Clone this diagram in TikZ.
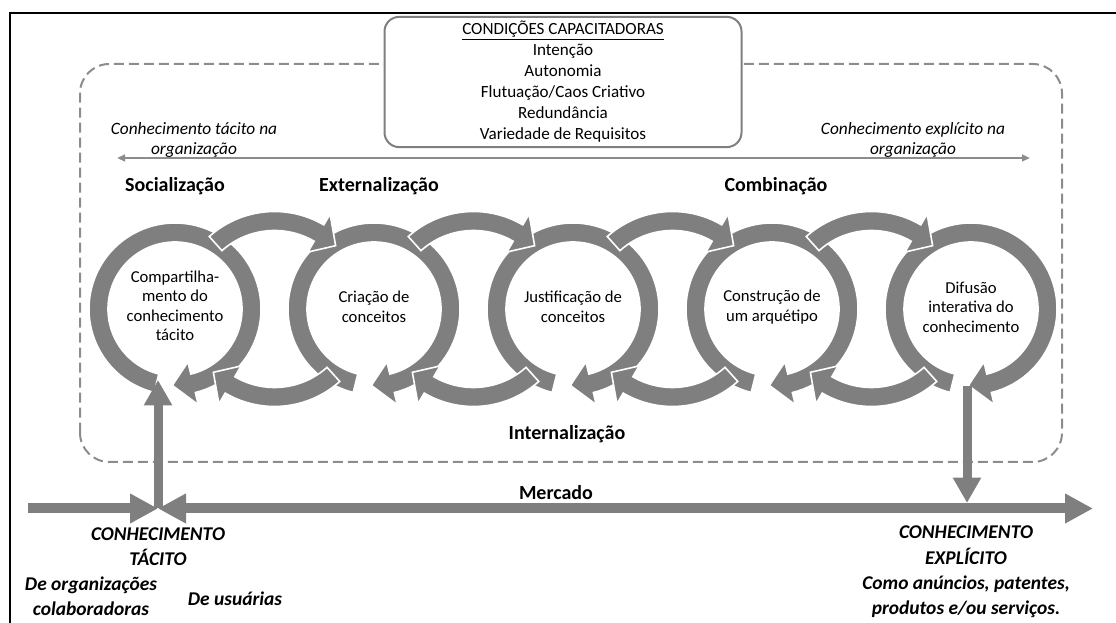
\documentclass[tikz,border=0pt]{standalone}
\usepackage{fontspec}
\setmainfont{Carlito}
\usepackage{tikz}
\usetikzlibrary{calc,arrows.meta,positioning}

\definecolor{shapegray}{HTML}{7F7F7F}
\definecolor{dashgray}{HTML}{8C8C8C}

% thick circular arrow: centre, mid radius, tail angle, tip angle (clockwise)
\newcommand{\ringarrow}[4]{%
  \pgfmathsetmacro{\ringout}{#2+9.5}%
  \pgfmathsetmacro{\ringin}{#2-9.5}%
  \pgfmathsetmacro{\barbout}{#2+22}%
  \pgfmathsetmacro{\barbin}{#2-22}%
  \pgfmathsetmacro{\headbase}{#4+1200/#2}%
  \path[ringfill,shift={(#1)}] (#3:\ringout)
    arc[start angle=#3,end angle=\headbase,radius=\ringout]
    -- (\headbase:\barbout) -- (#4:#2) -- (\headbase:\barbin) -- (\headbase:\ringin)
    arc[start angle=\headbase,end angle=#3,radius=\ringin] -- cycle;}

\tikzset{
  ringfill/.style={fill=shapegray,draw=white,line width=1.2pt,line join=miter},
  condbox/.style={draw=shapegray,line width=1.5pt,rounded corners=11pt,fill=white,
    align=center,minimum width=267.75pt,minimum height=96pt,
    font=\fontsize{12.8}{15.75}\selectfont},
  stage/.style={font=\fontsize{15}{18}\selectfont\bfseries},
  circtext/.style={align=center,font=\fontsize{12.5}{14.6}\selectfont},
  sidetext/.style={align=center,font=\fontsize{13}{15}\selectfont\itshape},
  bottomtext/.style={align=center,font=\fontsize{14.6}{19}\selectfont\bfseries\itshape},
  bigarrow/.style={draw=shapegray,line width=6.75pt,-{Triangle[length=19pt,width=20pt]}},
  mktarrow/.style={draw=shapegray,line width=7.5pt},
  thinarrow/.style={draw=dashgray,line width=1.5pt,
    {Triangle[length=6pt,width=5pt]}-{Triangle[length=6pt,width=5pt]}}
}

\begin{document}
\begin{tikzpicture}[x=0.75pt,y=0.75pt]
\useasboundingbox (0,0) rectangle (1116,623);

\draw[line width=1.5pt] (10,0) |- (1116,610);

% organisation
\draw[dashgray,line width=1.5pt,dash pattern=on 7.5pt off 3.75pt,rounded corners=22pt]
  (80,161) rectangle (1062,559);

\node[condbox] (cond) at (563,541) {\underline{CONDIÇÕES CAPACITADORAS}\\Intenção\\Autonomia\\
  Flutuação/Caos Criativo\\Redundância\\Variedade de Requisitos};

\node[sidetext] (tacorg) at (194,483) {Conhecimento tácito na\\organização};
\node[sidetext] (exporg) at (913,483) {Conhecimento explícito na\\organização};
\coordinate (orgL) at (117,465);
\coordinate (orgR) at (1030,465);
\draw[thinarrow] (orgL) -- (orgR);

\node[stage] (soc) at (175,437) {Socialização};
\node[stage] (ext) at (379,437) {Externalização};
\node[stage] (comb) at (776,437) {Combinação};
\node[stage] (intl) at (567,189) {Internalização};

% spiral of circles
\foreach \n/\x in {1/175,2/374,3/573,4/772,5/971}
  \coordinate (c\n) at (\x,314);
\foreach \n/\x in {1/274.5,2/473.5,3/672.5,4/871.5}
  \coordinate (m\n) at (\x,314);

\foreach \n in {1,...,5}
  \ringarrow{c\n}{76.5}{256}{-92};
\foreach \n in {1,...,4}{
  \ringarrow{m\n}{88}{132}{46}
  \ringarrow{m\n}{88}{-48}{-134}
}

\node[circtext] (comp) at (175,317) {Compartilha-\\mento do\\conhecimento\\tácito};
\node[circtext] (cria) at (374,316) {Criação de\\conceitos};
\node[circtext] (just) at (573,316) {Justificação de\\conceitos};
\node[circtext] (cons) at (772,316) {Construção de\\um arquétipo};
\node[circtext] (difu) at (971,316) {Difusão\\interativa do\\conhecimento};

% market
\coordinate (mktL) at (28,114.5);
\coordinate (mktT) at (158,114.5);
\coordinate (mktR) at (1093,114.5);
\coordinate (upT) at (158,243);
\coordinate (dnS) at (967,237);
\coordinate (dnT) at (967,120);

\draw[mktarrow,-{Triangle[length=21pt,width=21pt]}] (mktL) -- (mktT);
\draw[mktarrow,{Triangle[length=21pt,width=21pt]}-{Triangle[length=21pt,width=21pt]}] (mktT) -- (mktR);
\draw[bigarrow] (mktT) -- (upT);
\draw[bigarrow] (dnS) -- (dnT);

\node[stage] (merc) at (556,130) {Mercado};
\node[bottomtext] (tacito) at (158,76) {CONHECIMENTO\\TÁCITO};
\node[bottomtext] (colab) at (91,27) {De organizações\\colaboradoras};
\node[bottomtext] (usu) at (235,24) {De usuárias};
\node[bottomtext] (explic) at (966,51) {CONHECIMENTO\\EXPLÍCITO\\Como anúncios, patentes,\\produtos e/ou serviços.};
\end{tikzpicture}
\end{document}
